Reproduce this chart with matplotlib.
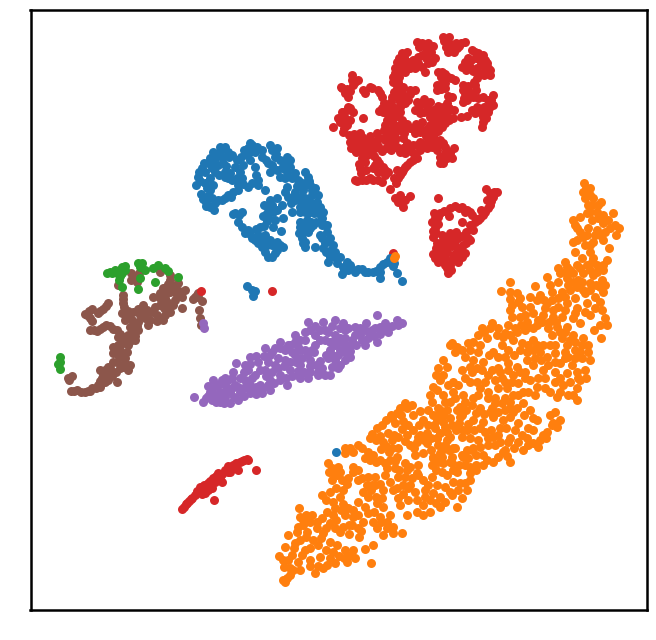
import matplotlib
matplotlib.use("Agg")
import matplotlib.pyplot as plt

brown_pts = [(131,273),(139,273),(135,278),(118,285),(160,268),(170,275),(170,280),(178,283),(163,288),(170,292),(160,293),(177,295),(153,297),(182,297),(193,299),(198,293),(123,295),(123,303),(167,302),(173,305),(182,308),(160,305),(155,307),(143,305),(138,309),(128,311),(122,313),(125,320),(132,320),(138,322),(145,318),(148,325),(157,315),(163,320),(170,312),(108,303),(103,309),(98,313),(92,309),(87,315),(92,321),(90,330),(97,331),(103,327),(110,326),(117,330),(118,337),(125,337),(132,333),(138,330),(135,340),(128,345),(123,343),(113,347),(113,353),(122,357),(113,362),(125,363),(130,365),(120,368),(108,367),(100,370),(117,382),(102,378),(98,385),(105,382),(92,388),(85,392),(77,390),(71,391),(68,378),(199,310),(200,318),(201,325),(165,298),(150,312),(130,327),(120,350),(116,372),(110,375),(107,372),(90,391),(185,290),(174,286),
(150,320),(153,312),(157,321),(165,315),(168,305),(175,300),(179,291),(166,293),(172,287),(168,284),(175,290),(160,298),(164,308),(143,312),(147,310),(140,315),(133,312),(128,317),(124,307),(123,299),(106,306),(100,311),(85,314),(89,311),(90,318),(94,330),(100,329),(106,325),(113,329),(120,334),(123,340),(128,335),(133,328),(137,326),(130,341),(135,336),(118,345),(115,350),(118,355),(125,358),(127,352),(110,368),(117,362),(123,367),(128,370),(105,370),(103,374),(112,376),(108,380),(100,381),(96,388),(100,387),(88,391),(81,392),(74,391),(202,301),(197,295),(198,297),(195,297),(69,380),(72,376),(131,280),(137,282),(160,272)]

red_pts = [(417,42),(422,43),(428,43),(433,46),(431,52),(443,37),(447,40),(450,44),(456,43),(461,43),(465,42),(446,47),(452,49),(457,48),
(402,53),(407,52),(397,62),(395,68),(393,77),(400,72),(408,62),(413,60),(422,55),(430,53),(435,58),(428,63),(422,67),(415,68),(410,68),(425,72),(403,67),
(398,82),(397,88),(402,93),(398,98),(407,97),(410,90),(415,90),(405,103),(395,108),(387,107),(382,108),(388,113),
(475,52),(483,55),(487,63),(490,75),(480,60),(468,58),(462,67),(470,67),(477,68),(485,70),(477,78),(475,85),(463,85),(465,93),(463,102),(473,97),(483,97),(493,95),(493,105),(488,112),(483,117),(482,127),(475,113),(467,116),(461,117),(453,118),(454,110),(452,97),(447,103),(440,85),(445,88),(437,90),(442,72),(448,77),(455,80),
(427,105),(420,105),(415,110),(433,110),(440,112),(447,113),(445,123),(438,122),(430,117),(422,122),(428,128),(420,132),(415,133),(435,132),(438,131),(407,124),(400,125),(393,123),(385,125),(395,132),(388,135),(377,133),(383,138),(403,138),(407,143),(413,145),(420,142),(427,143),(433,142),(440,140),(445,147),(437,150),(420,150),(412,152),(400,152),(382,151),(373,142),(367,140),(360,133),(353,137),(350,142),(357,147),(365,148),(370,153),(362,158),(360,168),(377,160),(383,167),(373,168),(370,178),(362,180),(355,180),(385,175),(382,182),(440,157),(447,158),(443,163),(454,148),(397,170),(405,167),(410,162),(417,158),(400,175),(396,183),(390,189),
(333,127),(343,132),(348,107),(343,112),(345,118),(353,112),(340,122),(363,118),(347,125),(341,87),(345,93),(352,75),(353,85),(358,80),(363,90),(370,87),(378,90),(382,97),(392,118),(400,112),(430,135),(410,128),(355,150),(360,142),(390,145),(395,140),(375,148),
(400,195),(410,196),(398,202),(403,207),(395,198),(405,200),
(438,198),(486,189),(497,192),(493,197),(490,205),(485,212),(480,218),(475,222),(473,230),(468,238),(463,245),(465,253),(457,252),(452,238),(458,238),(462,207),(467,210),(450,208),(472,215),(449,216),(440,213),(435,218),(432,222),(435,228),(433,237),(442,235),(437,243),(448,242),(433,254),(440,255),(438,262),(445,258),(450,265),(448,273),(458,262),(453,255),(462,222),(443,247),(455,245),
(272,291),(393,253),(201,291),
(182,509),(187,503),(192,498),(198,492),(203,487),(208,483),(213,478),(218,473),(225,470),(233,465),(240,462),(247,459),(205,493),(212,488),(222,482),(214,500),(256,470),(238,470),(200,490),(208,490),(228,466),
(184,507),(186,504),(189,501),(191,499),(195,495),(197,491),(200,487),(204,485),(202,494),(206,488),(210,481),(215,482),(211,485),(216,476),(220,477),(222,474),(228,472),(230,467),(235,468),(236,463),(242,461),(244,460),(248,460),(230,472),
(419,47),(425,47),(427,50),(444,41),(449,37),(452,46),(459,46),(448,52),(454,52),(399,58),(404,57),(395,73),(399,77),(403,62),(412,64),(418,63),(418,57),(426,58),(432,62),(405,72),(398,67),
(393,82),(394,92),(392,97),(400,102),(404,98),(410,94),(399,92),(403,87),(408,100),(391,102),(391,112),(385,112),(393,116),(400,107),(397,116),(402,120),(396,128),(390,130),(384,130),(400,130),(405,128),(404,133),(412,128),(416,124),(420,127),(424,132),(426,136),(430,125),(431,131),(436,126),(442,127),(446,117),(449,120),(433,118),(424,112),(428,110),(420,113),(417,102),(424,99),(430,102),(438,106),(443,107),(443,117),(438,115),(449,108),(434,138),(427,137),(422,147),(427,148),(432,147),(438,145),(443,143),(447,151),(450,153),(452,158),(445,153),(440,163),(417,145),(408,148),(403,148),(397,147),(391,150),(386,148),(378,146),(370,147),(365,143),(358,138),(354,143),(351,148),(356,152),(362,152),(367,155),(374,156),(379,163),(375,165),(365,162),(359,164),(361,173),(366,170),(378,172),(385,170),(388,172),(378,180),(357,181),(366,180),(373,180),(402,172),(407,165),(403,170),(394,178),(398,178),(413,160),(415,155),(405,153),(410,148),(385,140),(377,140),(370,136),(362,137),(395,137),(391,142),(394,147),(349,135),(354,134),(342,112),(347,110),(350,108),(345,123),(350,120),(344,128),(338,118),(342,88),(347,89),(350,91),(348,97),(355,82),(352,80),(365,93),(372,88),(380,93),(384,103),(383,112),(379,111),(387,120),
(472,50),(478,53),(485,60),(488,68),(490,70),(476,58),(471,60),(465,62),(466,70),(473,71),(481,64),(484,75),(479,73),(474,82),(468,86),(476,90),(469,92),(463,90),(467,100),(464,98),(478,98),(488,100),(491,100),(489,108),(484,107),(480,112),(486,118),(483,122),(477,107),(472,110),(445,83),(441,77),(438,72),(445,74),(451,78),(441,89),(437,85),(448,96),
(491,201),(488,208),(483,215),(478,220),(470,225),(466,232),(462,236),(456,232),(450,233),(447,237),(470,240),(466,243),(460,249),(455,240),(452,246),(447,248),(443,240),(440,250),(436,248),(435,258),(441,261),(445,265),(451,270),(447,268),(452,260),(447,252),(458,256),(462,257),(436,233),(433,231),(438,224),(434,213),(438,217),(444,211),(455,206),(459,208),(465,212),(470,212),(476,219),(481,210),(487,200),(494,192),(490,193)]

blue_pts = [(196,185),(198,177),(202,168),(208,163),(213,152),(220,152),(225,147),(232,155),(215,172),(210,178),(205,183),(210,190),(201,194),(203,199),(206,206),(214,210),(212,198),(218,200),(225,198),(231,197),(222,157),(223,163),(213,163),(225,172),(230,173),(225,177),
(238,190),(237,178),(235,167),(243,165),(248,148),(252,145),(257,147),(247,155),(250,160),(255,167),(242,178),(248,187),(258,180),(258,185),(265,190),(262,157),(268,163),(270,145),(277,148),(275,157),(280,160),(287,157),(282,168),(270,172),(280,177),(287,172),(295,173),(300,182),(308,177),(310,185),(287,187),(288,197),(295,192),(303,190),(295,200),(305,198),(312,195),(315,188),(317,202),(308,207),(302,203),(320,207),(305,212),(318,213),(322,218),(325,225),(327,232),(320,235),(328,240),(323,248),(315,247),(333,245),(332,253),(328,262),(340,257),(337,263),(343,267),(347,262),(342,274),(348,270),(355,272),(362,269),(368,272),(373,272),(380,278),(380,267),(383,264),(390,258),(393,266),(397,273),(402,281),
(270,200),(277,198),(268,207),(267,213),(277,210),(282,205),(292,212),(283,218),(275,220),(267,221),(273,227),(281,231),(260,227),(235,213),(242,212),(238,222),(242,227),(248,230),(252,238),(258,235),(265,235),(260,242),(267,245),(277,242),(283,247),(265,252),(272,257),(277,250),(300,227),(307,220),(313,225),(302,233),(308,232),(305,242),(305,247),(298,180),(305,183),(310,202),(300,197),
(247,286),(252,290),(255,291),(253,296),(336,452),
(199,172),(204,163),(210,158),(216,157),(220,147),(228,152),(218,165),(212,168),(205,172),(200,181),(207,188),(213,185),(208,196),(206,202),(210,207),(215,203),(222,200),(228,195),(233,192),(229,157),(226,166),(219,175),(228,178),(232,180),(240,172),(237,160),(241,157),(250,152),(244,150),(255,152),(250,143),(238,185),(243,184),(252,183),(256,175),(262,150),(266,160),(272,150),(276,154),(272,165),(277,170),(284,163),(290,160),(290,167),(292,178),(285,178),(297,186),(305,172),(309,181),(312,190),(304,186),(294,196),(291,203),(285,192),(300,207),(312,208),(316,207),(318,195),(314,213),(308,213),(300,212),(323,212),(322,225),(327,225),(322,238),(330,238),(325,243),(331,250),(326,252),(335,252),(336,258),(344,270),(350,265),(351,268),(358,269),(365,272),(376,271),(380,272),(387,262),(394,263),(379,270),(330,257),
(264,205),(272,205),(273,212),(268,217),(263,216),(239,215),(233,214),(245,233),(250,234),(255,240),(260,237),(264,240),(270,240),(272,245),(275,253),(268,257),(280,245),(262,247),(258,243),(256,229),(264,226),(302,238),(300,222),(305,226),(311,222),(316,222),(310,228),(304,229),(299,233),(303,243),(310,227)]

orange_pts = [(279,556),(284,567),(285,582),(290,575),(300,570),(315,573),(323,568),(335,563),(347,562),(355,558),(371,563),(365,549),(373,545),(353,550),(345,550),(337,545),(320,557),(310,560),(302,555),(292,555),(285,547),(288,535),(298,527),(300,517),(299,508),(312,515),(317,522),(307,532),(313,540),(295,543),(323,533),(330,523),(333,515),(333,502),(322,495),(340,497),(343,490),(342,480),(332,480),(332,468),(328,463),(338,467),(345,448),(353,452),(358,445),(365,458),(373,455),(380,460),(387,468),(390,460),(353,467),(348,478),(358,480),(367,485),(375,477),(375,485),(383,490),(397,488),(398,498),(368,497),(365,507),(348,508),(345,515),(353,517),(363,522),(358,528),(349,534),(359,537),(377,503),(383,507),(380,517),(373,522),(387,522),(393,527),(402,533),(383,535),(393,533),(377,528),(407,515),(417,512),(423,515),(430,512),(423,505),(440,507),(440,497),(433,493),(417,500),(408,500),(425,490),(410,485),(398,477),(395,468),(407,470),(423,480),(432,477),(442,472),(453,482),(450,492),(460,483),(457,507),(462,498),(467,490),(470,473),(457,472),(433,457),(443,463),(452,457),(442,450),(455,448),(447,440),(463,457),(437,438),(427,443),(423,453),(415,455),(410,467),(397,457),(398,448),(392,448),(398,437),(407,435),(413,430),(420,435),(427,433),(417,442),(383,442),(370,438),(377,428),(386,420),(395,423),(388,433),(397,413),(407,408),(413,415),(423,420),(433,415),(440,410),(447,410),(460,417),(443,422),(440,433),(450,437),(462,437),(467,430),(467,450),
(584,183),(590,188),(583,192),(593,198),(601,202),(588,205),(587,213),(597,212),(603,215),(613,213),(573,220),(580,217),(592,220),(603,223),(615,225),(619,228),(616,235),(605,232),(597,230),(588,228),(577,228),(583,237),(593,242),(603,240),(609,248),(573,242),(575,252),(590,252),(593,258),(607,260),(565,262),(558,268),(567,267),(577,265),(587,265),(597,265),(573,273),(583,273),(593,275),(603,270),(602,280),(590,283),(582,282),(567,278),(558,282),(547,277),(550,285),(535,286),(510,282),(501,291),(510,292),(517,293),(510,299),(518,302),(530,297),(540,295),(552,292),(562,292),(577,287),(575,298),(585,293),(595,297),(603,292),(587,303),(600,302),(595,308),(602,310),(577,308),(567,303),(558,307),(547,303),(537,300),(530,307),(522,307),(510,310),(512,317),(520,317),(533,313),(543,315),(527,322),(553,317),(562,317),(573,318),(580,323),(605,318),(607,325),(600,325),(594,330),(601,338),(508,325),(492,323),(482,328),(498,328),(505,333),(517,332),(525,330),(533,328),(548,328),(557,327),(567,327),(552,335),(562,338),(573,335),(583,338),(487,338),(480,345),(473,342),(468,343),(513,340),(522,343),(533,340),(508,350),(502,345),(493,352),(452,343),(455,352),(465,357),(473,360),(483,362),(443,360),(438,368),(447,367),(440,380),(433,387),(453,382),(462,370),(472,372),(470,382),(488,375),(498,368),(508,363),(517,367),(527,352),(533,350),(540,352),(547,357),(555,353),(567,345),(575,350),(588,352),(568,357),(582,358),(560,363),(572,365),(585,370),(543,370),(533,365),(525,372),(513,375),(502,378),(518,383),(530,380),(537,387),(555,372),(555,382),(567,373),(580,380),(563,385),(577,388),(557,397),(568,395),(577,400),
(480,388),(488,392),(498,388),(507,388),(518,395),(528,392),(473,398),(463,395),(453,392),(443,395),(432,402),(438,408),(450,402),(460,407),(472,405),(480,408),(492,408),(502,403),(517,408),(530,410),(510,417),(518,423),(503,420),(493,417),(483,422),(473,420),(462,415),(450,418),(437,415),(447,432),(435,428),(463,430),(470,438),(485,432),(498,435),(510,438),(555,412),(550,415),(557,427),(547,432),(537,420),(533,430),(527,438),(523,450),(538,447),(543,435),(503,452),(508,442),(493,462),(510,462),(483,455),(473,448),(453,448),(462,455),(440,453),(433,458),(450,462),(437,438),
(395,256),(394,258),
(283,560),(288,560),(294,548),(300,540),(306,537),(297,532),(303,525),(310,522),(306,515),(303,520),(317,528),(321,538),(318,545),(310,548),(305,550),(298,562),(290,568),(287,578),(283,580),(293,570),(310,566),(318,566),(327,565),(330,558),(326,550),(333,552),(339,556),(344,558),(349,556),(330,542),(326,528),(335,528),(340,532),(322,518),(327,512),(335,508),(343,504),(341,510),(326,500),(330,492),(336,488),(347,484),(337,475),(340,472),(329,472),(333,473),
(345,453),(350,448),(362,448),(368,452),(370,460),(376,462),(385,463),(395,461),(389,452),(381,449),(386,446),(392,440),(394,435),(380,436),(376,440),(372,434),(382,425),(391,415),(401,415),(403,421),(402,429),(408,425),(419,425),(428,425),(434,425),(437,420),(428,410),(420,411),(412,405),(405,403),(400,408),(392,418),
(353,472),(358,470),(362,478),(368,477),(372,485),(380,484),(385,475),(390,482),(393,490),(403,485),(399,470),(405,477),(412,478),(417,473),(418,465),(405,463),(414,448),(410,445),(405,441),(418,437),(424,440),(431,438),(431,450),(438,445),(445,445),(449,450),(442,457),(438,462),(432,465),(436,470),(447,475),(453,470),(459,465),(465,465),(452,463),(468,458),(472,450),(476,455),(476,465),(470,467),(476,470),(483,465),(487,460),(480,447),(478,440),(488,438),(491,430),(480,428),(474,430),(468,424),(459,423),(456,430),(452,425),(445,427),(443,415),(457,410),(466,410),(476,413),(484,414),(490,412),(498,412),(505,410),(510,408),(513,412),(524,415),(533,418),(528,428),(522,435),(515,430),(506,428),(500,428),(493,437),(488,445),(495,445),(500,442),(505,450),(498,457),(507,456),(514,448),(518,442),(528,445),(533,443),(540,440),(546,438),(552,425),(560,420),(553,423),
(415,492),(403,494),(408,488),(425,497),(430,500),(436,503),(445,502),(452,495),(458,490),(465,483),(470,480),(445,487),(437,485),(428,485),(418,475),(400,505),(390,515),(382,498),(376,497),(371,490),(363,492),(358,502),(353,510),(368,513),(374,512),(381,522),(387,528),(358,515),(352,525),(361,531),(336,520),(343,527),(349,525),
(450,345),(457,347),(462,350),(470,350),(478,335),(484,332),(490,328),(497,335),(503,337),(510,335),(515,328),(521,325),(528,327),(537,325),(542,322),(549,322),(556,322),(560,332),(565,332),(570,340),(575,342),(582,345),(588,345),(580,352),(575,358),(565,352),(555,345),(550,345),(543,345),(537,345),(528,345),(520,350),(514,355),(505,357),(498,357),(489,355),(478,352),(470,367),(477,368),(482,370),(492,370),(500,372),(508,370),(520,372),(527,360),(535,358),(541,360),(548,365),(555,362),(565,358),(577,372),(586,378),(590,360),(578,378),(570,382),(560,378),(545,378),(538,378),(525,378),(512,382),(505,382),(495,380),(485,382),(477,382),(465,378),(458,385),(448,385),(443,375),(436,375),(430,395),(437,390),(445,402),(455,398),(465,402),(478,395),(488,398),(495,398),(505,398),(513,395),(523,392),(535,395),(545,388),(550,392),(560,392),(573,395),(523,403),(510,402),(495,403),
(560,273),(565,272),(570,270),(580,268),(590,270),(597,272),(603,265),(592,262),(582,258),(590,245),(585,245),(577,240),(580,232),(587,235),(595,235),(600,235),(610,228),(608,220),(598,218),(590,212),(585,198),(590,195),(586,188),(592,205),(598,205),(575,225),(568,285),(573,282),(578,280),(596,285),(600,287),(605,285),(590,290),(583,290),(570,290),(565,297),(558,298),(552,300),(544,300),(520,298),(512,305),(525,315),(538,320),(545,308),(553,310),(565,310),(575,313),(585,312),(590,315)]

purple_pts = [(203,323),(204,328),
(194,397),(203,402),(212,400),(220,402),(230,403),(238,400),(250,393),(262,393),(270,390),(287,385),(308,378),(318,375),(330,375),(332,367),(350,357),(365,345),(377,342),(388,332),(402,323),(397,320),(385,323),(377,315),(366,323),(355,327),(343,323),(335,320),(323,322),(308,322),(310,330),(295,335),(280,342),(275,348),(265,348),(250,357),(236,363),(233,372),(213,380),(208,386),
(225,385),(235,385),(245,380),(255,375),(265,370),(275,365),(285,360),(295,355),(305,350),(315,345),(325,340),(335,335),(345,330),(355,335),(350,345),(340,350),(330,350),(320,361),(310,360),(300,365),(290,370),(280,375),(270,380),(260,385),(250,385),(240,392),(230,392),(220,392),(212,390),(225,397),(240,378),(248,370),(258,362),(270,355),(285,350),(300,340),(315,335),(325,330),(340,338),(345,345),(335,360),(322,368),(310,372),(298,375),(375,328),(385,330),(370,335),(360,335),(392,326),(398,325),(225,378),(218,385),(245,365),(290,345),(305,340),(335,345),(328,358),
(208,396),(214,395),(220,397),(226,391),(232,388),(238,387),(244,388),(250,389),(256,387),(262,388),(268,385),(274,383),(280,380),(286,378),(292,376),(298,371),(304,372),(310,366),(316,365),(326,355),(332,355),(338,355),(344,352),(350,351),(356,345),(362,340),(368,338),(374,336),(380,334),(386,328),(380,327),(372,330),(365,330),(358,330),(348,328),(340,328),(332,326),(328,332),(320,330),(315,326),(305,332),(295,342),(288,345),(280,348),(272,352),(264,356),(256,356),(250,364),(244,372),(232,378),(228,380),(222,380),(216,385),(210,392),(206,398),(216,402),(224,403),(234,397),(244,396),(256,394),(266,376),(272,372),(278,368),(284,366),(290,362),(296,362),(302,358),(308,354),(314,352),(300,350),(292,352),(278,358),(268,362),(260,370),(252,378),(246,386),(320,340),(330,342),(338,342),(345,338),(352,340),(360,328),(340,365),(345,360),(332,342),(312,350),(298,347),(318,372),(325,375),(338,368),(300,378)]

green_pts = [(107,273),(112,273),(117,273),(122,267),(125,266),(122,273),(119,280),(122,287),(138,263),(142,263),(145,270),(140,278),(138,289),(155,282),(153,268),(158,265),(165,268),(168,271),(178,277),(60,357),(58,364),(60,369),(110,272),(115,270),(120,270),(125,270),(120,276),(60,362),(140,267)]

series = [
    (brown_pts, "#8c564b"),
    (red_pts, "#d62728"),
    (blue_pts, "#1f77b4"),
    (orange_pts, "#ff7f0e"),
    (purple_pts, "#9467bd"),
    (green_pts, "#2ca02c"),
]

fig = plt.figure(figsize=(6.56, 6.40), dpi=100)
ax = fig.add_axes([30.5/656, 1-609.5/640, 616.5/656, 600/640])
for pts, col in series:
    xs = [p[0] for p in pts]
    ys = [p[1] for p in pts]
    ax.scatter(xs, ys, s=42, c=col, linewidths=0)
ax.set_xlim(30.5, 647)
ax.set_ylim(609.5, 9.5)
ax.set_xticks([])
ax.set_yticks([])
for s in ax.spines.values():
    s.set_linewidth(1.8)
    s.set_color("black")
fig.savefig("out.png", dpi=100)
